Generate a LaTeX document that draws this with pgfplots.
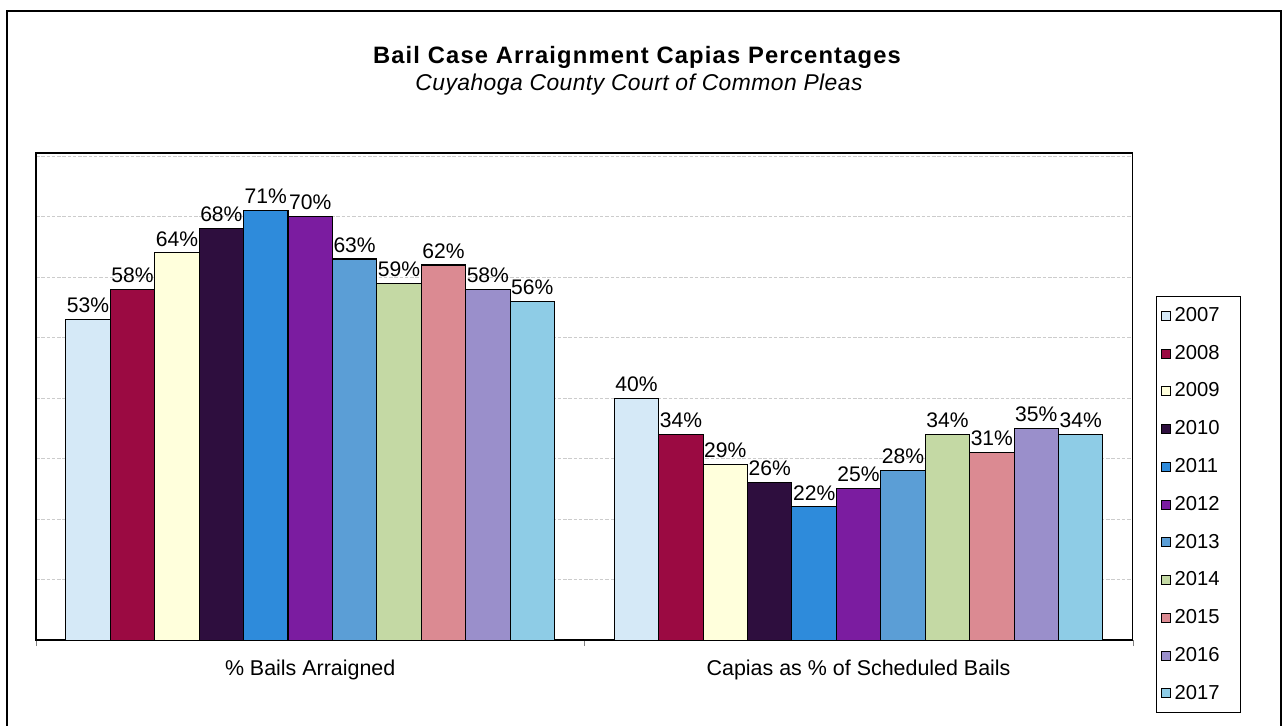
\documentclass[border=0pt]{standalone}
\usepackage{pgfplots}
\pgfplotsset{compat=1.18}
\usepackage{fontspec}
\setmainfont{Liberation Sans}

\definecolor{c07}{HTML}{D5E9F7}
\definecolor{c08}{HTML}{9B0A42}
\definecolor{c09}{HTML}{FFFFDC}
\definecolor{c10}{HTML}{2E0E3E}
\definecolor{c11}{HTML}{2E8BDB}
\definecolor{c12}{HTML}{7B1CA0}
\definecolor{c13}{HTML}{5B9ED6}
\definecolor{c14}{HTML}{C4D9A4}
\definecolor{c15}{HTML}{DB8A92}
\definecolor{c16}{HTML}{9A8FCB}
\definecolor{c17}{HTML}{8ECCE6}

\begin{document}
\begin{tikzpicture}[x=0.02cm,y=0.02cm]
\useasboundingbox (0,0) rectangle (1287,725);
% outer frame (open at the bottom, as in the scan)
\draw[line width=1.2pt] (7,-5) -- (7,714) -- (1281,714) -- (1281,-5);
\node[font=\fontsize{13.5}{15}\selectfont\bfseries\addfontfeature{LetterSpace=5}] at (637,668) {Bail Case Arraignment Capias Percentages};
\node[font=\fontsize{13}{15}\selectfont\itshape\addfontfeature{LetterSpace=2}] at (639,640) {Cuyahoga County Court of Common Pleas};

\begin{axis}[
    at={(0.72cm,1.7cm)}, anchor=south west,
    width=21.94cm, height=9.74cm, scale only axis,
    ybar=0pt,
    bar width=0.081,
    xmin=-0.5, xmax=1.5,
    ymin=0, ymax=80.5,
    xtick={-0.5,0.5,1.5}, xticklabels={},
    xtick align=outside, xtick pos=lower,
    major tick length=0.12cm,
    extra x ticks={0,1},
    extra x tick labels={\% Bails Arraigned, Capias as \% of Scheduled Bails},
    extra x tick style={major tick length=0pt, xticklabel style={yshift=-0.27cm}},
    xticklabel style={font=\fontsize{12.2}{14}\selectfont},
    ytick={10,20,...,80}, yticklabels={},
    ytick style={draw=none},
    ymajorgrids,
    grid style={gray!40, line width=0.3pt, dash pattern=on 2pt off 1pt},
    axis line style={line width=0.8pt},
    every axis plot/.append style={draw=black, line width=0.6pt},
    nodes near coords={\pgfmathprintnumber[assume math mode=true]{\pgfplotspointmeta}\%},
    nodes near coords style={font=\fontsize{12}{14}\selectfont, color=black, inner sep=3.5pt},
    legend cell align=left,
    legend style={at={(1.021,0.706)}, anchor=north west, draw=black, line width=0.6pt,
        font=\fontsize{11.5}{13}\selectfont, row sep=0.28cm, inner xsep=0.1cm, inner ysep=0.14cm,
        nodes={text width=1.15cm}},
    legend image code/.code={\draw[#1, line width=0.5pt] (0cm,-0.09cm) rectangle (0.18cm,0.09cm);},
]
\addplot[fill=c07] coordinates {(0,53) (1,40)};
\addplot[fill=c08] coordinates {(0,58) (1,34)};
\addplot[fill=c09] coordinates {(0,64) (1,29)};
\addplot[fill=c10] coordinates {(0,68) (1,26)};
\addplot[fill=c11] coordinates {(0,71) (1,22)};
\addplot[fill=c12] coordinates {(0,70) (1,25)};
\addplot[fill=c13] coordinates {(0,63) (1,28)};
\addplot[fill=c14] coordinates {(0,59) (1,34)};
\addplot[fill=c15] coordinates {(0,62) (1,31)};
\addplot[fill=c16] coordinates {(0,58) (1,35)};
\addplot[fill=c17] coordinates {(0,56) (1,34)};
\legend{2007,2008,2009,2010,2011,2012,2013,2014,2015,2016,2017}
\end{axis}
\end{tikzpicture}
\end{document}
